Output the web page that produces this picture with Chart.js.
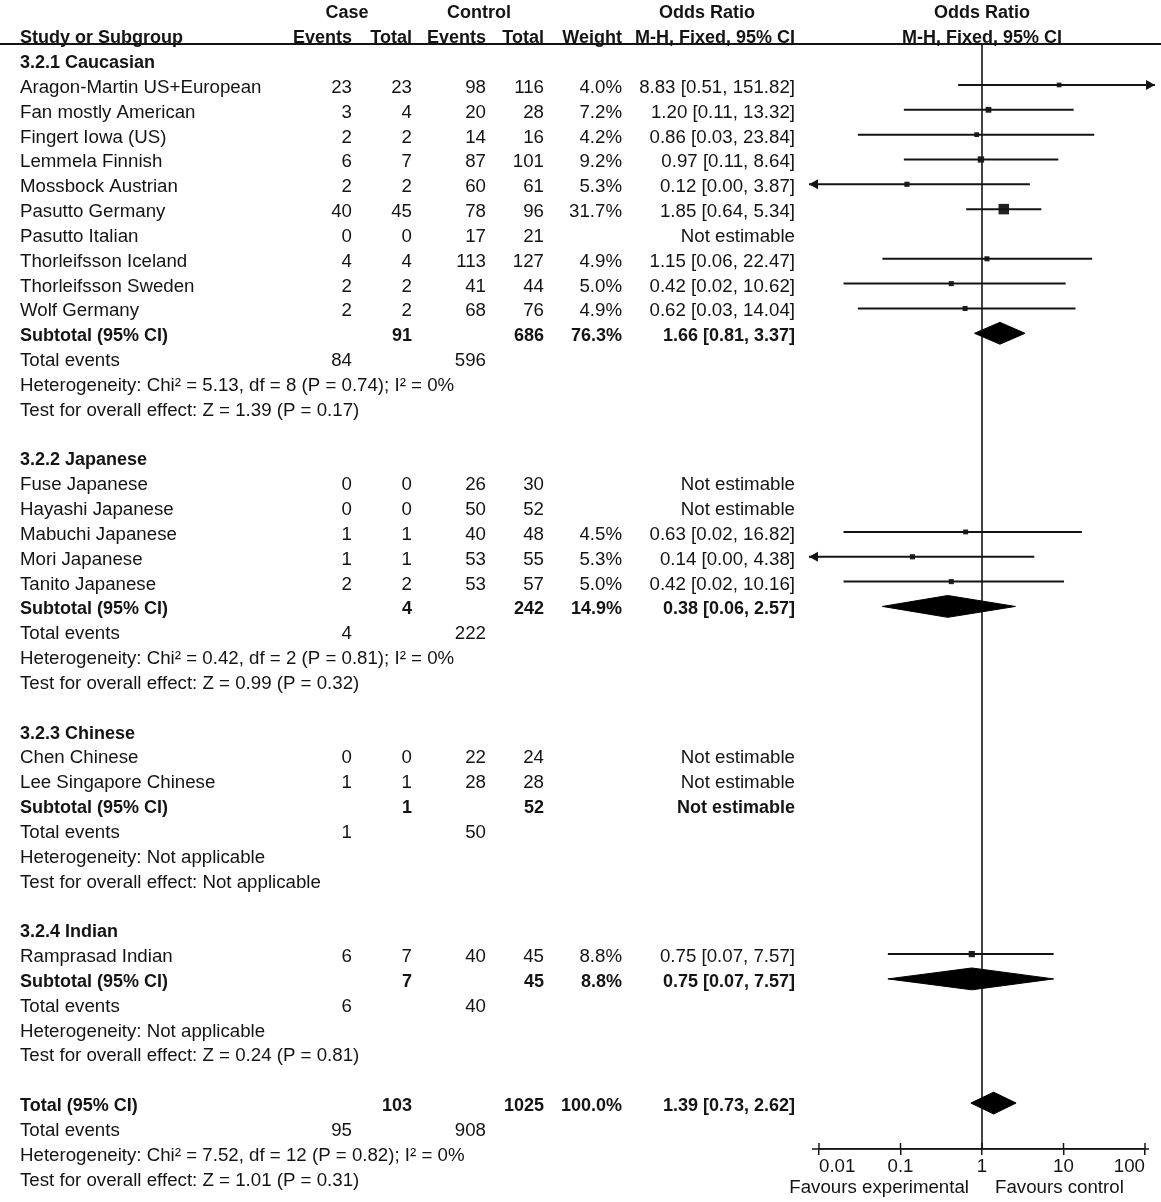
<!DOCTYPE html>
<html>
<head>
<meta charset="utf-8">
<script src="https://cdn.jsdelivr.net/npm/chart.js@4.4.1/dist/chart.umd.min.js"></script>
<style>
  html, body { margin: 0; padding: 0; background: #fff; }
  canvas { display: block; }
</style>
</head>
<body>
<canvas id="forest" width="1161" height="1202"></canvas>
<script>
// ---------- data ----------
const groupNames = ['3.2.1 Caucasian', '3.2.2 Japanese', '3.2.3 Chinese', '3.2.4 Indian'];

const studyNames = [
  'Aragon-Martin US+European', 'Fan mostly American', 'Fingert Iowa (US)', 'Lemmela Finnish',
  'Mossbock Austrian', 'Pasutto Germany', 'Pasutto Italian', 'Thorleifsson Iceland',
  'Thorleifsson Sweden', 'Wolf Germany',
  'Fuse Japanese', 'Hayashi Japanese', 'Mabuchi Japanese', 'Mori Japanese', 'Tanito Japanese',
  'Chen Chinese', 'Lee Singapore Chinese',
  'Ramprasad Indian'
];
const studyGroup = [0, 0, 0, 0, 0, 0, 0, 0, 0, 0, 1, 1, 1, 1, 1, 2, 2, 3];
const caseEvents = [23, 3, 2, 6, 2, 40, 0, 4, 2, 2, 0, 0, 1, 1, 2, 0, 1, 6];
const caseTotals = [23, 4, 2, 7, 2, 45, 0, 4, 2, 2, 0, 0, 1, 1, 2, 0, 1, 7];
const ctrlEvents = [98, 20, 14, 87, 60, 78, 17, 113, 41, 68, 26, 50, 40, 53, 53, 22, 28, 40];
const ctrlTotals = [116, 28, 16, 101, 61, 96, 21, 127, 44, 76, 30, 52, 48, 55, 57, 24, 28, 45];
const weights   = [4.0, 7.2, 4.2, 9.2, 5.3, 31.7, null, 4.9, 5.0, 4.9, null, null, 4.5, 5.3, 5.0, null, null, 8.8];
const oddsRatio = [8.83, 1.20, 0.86, 0.97, 0.12, 1.85, null, 1.15, 0.42, 0.62, null, null, 0.63, 0.14, 0.42, null, null, 0.75];
const ciLower   = [0.51, 0.11, 0.03, 0.11, 0.00, 0.64, null, 0.06, 0.02, 0.03, null, null, 0.02, 0.00, 0.02, null, null, 0.07];
const ciUpper   = [151.82, 13.32, 23.84, 8.64, 3.87, 5.34, null, 22.47, 10.62, 14.04, null, null, 16.82, 4.38, 10.16, null, null, 7.57];

// subgroup summaries
const subCaseEvents = [84, 4, 1, 6];
const subCaseTotals = [91, 4, 1, 7];
const subCtrlEvents = [596, 222, 50, 40];
const subCtrlTotals = [686, 242, 52, 45];
const subWeights = [76.3, 14.9, null, 8.8];
const subOdds  = [1.66, 0.38, null, 0.75];
const subLower = [0.81, 0.06, null, 0.07];
const subUpper = [3.37, 2.57, null, 7.57];
const subHeterogeneity = [
  'Chi² = 5.13, df = 8 (P = 0.74); I² = 0%',
  'Chi² = 0.42, df = 2 (P = 0.81); I² = 0%',
  'Not applicable',
  'Not applicable'
];
const subEffect = ['Z = 1.39 (P = 0.17)', 'Z = 0.99 (P = 0.32)', 'Not applicable', 'Z = 0.24 (P = 0.81)'];

// overall
const totalCaseEvents = 95, totalCaseN = 103;
const totalCtrlEvents = 908, totalCtrlN = 1025;
const totalWeight = 100.0;
const totalOdds = [1.39, 0.73, 2.62];
const totalHeterogeneity = 'Chi² = 7.52, df = 12 (P = 0.82); I² = 0%';
const totalEffect = 'Z = 1.01 (P = 0.31)';

const axisTicks = [0.01, 0.1, 1, 10, 100];
const axisTickLabels = ['0.01', '0.1', '1', '10', '100'];

// ---------- layout ----------
const INK = '#141414';
const FONT = '"Liberation Sans", Arial, sans-serif';
const X_MIN = 0.01, X_MAX = 100;
const COL = { name: 20, caseEv: 352, caseN: 412, ctrlEv: 486, ctrlN: 544, weight: 622, or: 795 };
const DIAMOND_H = 0.44; // half height of summary diamonds, in rows

// build the row list
const rows = [];
let r = 0;
groupNames.forEach((g, gi) => {
  rows.push({ kind: 'group', gi, row: r++ });
  studyNames.forEach((s, i) => { if (studyGroup[i] === gi) rows.push({ kind: 'study', i, row: r++ }); });
  rows.push({ kind: 'subtotal', gi, row: r++ });
  rows.push({ kind: 'events', gi, row: r++ });
  rows.push({ kind: 'het', gi, row: r++ });
  rows.push({ kind: 'effect', gi, row: r++ });
  r++;
});
rows.push({ kind: 'total', row: r++ });
rows.push({ kind: 'totalEvents', row: r++ });
rows.push({ kind: 'totalHet', row: r++ });
rows.push({ kind: 'totalEffect', row: r++ });

const clampX = v => Math.min(Math.max(v, X_MIN), X_MAX);
const orText = (o, lo, hi) => o.toFixed(2) + ' [' + lo.toFixed(2) + ', ' + hi.toFixed(2) + ']';

// ---------- datasets ----------
const datasets = [];
const markers = [];
const markerSize = [];
rows.filter(d => d.kind === 'study' && oddsRatio[d.i] != null).forEach(d => {
  const i = d.i;
  datasets.push({
    data: [{ x: clampX(ciLower[i]), y: d.row }, { x: clampX(ciUpper[i]), y: d.row }],
    showLine: true, borderColor: INK, borderWidth: 2, pointRadius: 0, clip: false
  });
  markers.push({ x: oddsRatio[i], y: d.row });
  // square side grows with sqrt(weight)
  markerSize.push((1.5 + 1.6 * Math.sqrt(weights[i])) / Math.SQRT2);
});
datasets.push({
  data: markers, pointStyle: 'rect', pointRadius: markerSize,
  backgroundColor: '#222', borderColor: '#222', borderWidth: 0
});

function diamond(o, lo, hi, row) {
  return {
    data: [{ x: lo, y: row }, { x: o, y: row - DIAMOND_H }, { x: hi, y: row }, { x: o, y: row + DIAMOND_H }, { x: lo, y: row }],
    showLine: true, fill: 'shape', backgroundColor: '#000', borderColor: '#000', borderWidth: 1,
    pointRadius: 0, tension: 0
  };
}
rows.forEach(d => {
  if (d.kind === 'subtotal' && subOdds[d.gi] != null) datasets.push(diamond(subOdds[d.gi], subLower[d.gi], subUpper[d.gi], d.row));
  if (d.kind === 'total') datasets.push(diamond(totalOdds[0], totalOdds[1], totalOdds[2], d.row));
});

// ---------- text + decorations ----------
function put(ctx, s, x, y, align, bold) {
  ctx.font = bold ? 'bold 18px ' + FONT : '18.7px ' + FONT;
  ctx.textAlign = align;
  ctx.fillText(s, x, y + 8);
}

const forestLayer = {
  id: 'forestLayer',
  beforeDatasetsDraw(chart) {
    const { ctx, chartArea, scales: { x } } = chart;
    const x1 = x.getPixelForValue(1);
    ctx.save();
    ctx.strokeStyle = INK;
    ctx.lineWidth = 1.6;
    ctx.beginPath();
    ctx.moveTo(x1, chartArea.top);
    ctx.lineTo(x1, chartArea.bottom);
    ctx.stroke();
    ctx.lineWidth = 2;
    ctx.beginPath();
    ctx.moveTo(0, chartArea.top);
    ctx.lineTo(chart.width, chartArea.top);
    ctx.stroke();
    ctx.restore();
  },
  afterDraw(chart) {
    const { ctx, chartArea, scales: { x, y } } = chart;
    const py = v => y.getPixelForValue(v);
    const x1 = x.getPixelForValue(1);
    ctx.save();
    ctx.fillStyle = INK;
    ctx.textBaseline = 'alphabetic';

    // headers
    put(ctx, 'Case', 347, py(-2), 'center', true);
    put(ctx, 'Control', 479, py(-2), 'center', true);
    put(ctx, 'Odds Ratio', 707, py(-2), 'center', true);
    put(ctx, 'Odds Ratio', x1, py(-2), 'center', true);
    put(ctx, 'Study or Subgroup', COL.name, py(-1), 'left', true);
    put(ctx, 'Events', COL.caseEv, py(-1), 'right', true);
    put(ctx, 'Total', COL.caseN, py(-1), 'right', true);
    put(ctx, 'Events', COL.ctrlEv, py(-1), 'right', true);
    put(ctx, 'Total', COL.ctrlN, py(-1), 'right', true);
    put(ctx, 'Weight', COL.weight, py(-1), 'right', true);
    put(ctx, 'M-H, Fixed, 95% CI', COL.or, py(-1), 'right', true);
    put(ctx, 'M-H, Fixed, 95% CI', x1, py(-1), 'center', true);

    rows.forEach(d => {
      const yy = py(d.row);
      if (d.kind === 'group') {
        put(ctx, groupNames[d.gi], COL.name, yy, 'left', true);
      } else if (d.kind === 'study') {
        const i = d.i;
        put(ctx, studyNames[i], COL.name, yy, 'left');
        put(ctx, String(caseEvents[i]), COL.caseEv, yy, 'right');
        put(ctx, String(caseTotals[i]), COL.caseN, yy, 'right');
        put(ctx, String(ctrlEvents[i]), COL.ctrlEv, yy, 'right');
        put(ctx, String(ctrlTotals[i]), COL.ctrlN, yy, 'right');
        if (oddsRatio[i] == null) {
          put(ctx, 'Not estimable', COL.or, yy, 'right');
        } else {
          put(ctx, weights[i].toFixed(1) + '%', COL.weight, yy, 'right');
          put(ctx, orText(oddsRatio[i], ciLower[i], ciUpper[i]), COL.or, yy, 'right');
        }
      } else if (d.kind === 'subtotal') {
        const g = d.gi;
        put(ctx, 'Subtotal (95% CI)', COL.name, yy, 'left', true);
        put(ctx, String(subCaseTotals[g]), COL.caseN, yy, 'right', true);
        put(ctx, String(subCtrlTotals[g]), COL.ctrlN, yy, 'right', true);
        if (subOdds[g] == null) {
          put(ctx, 'Not estimable', COL.or, yy, 'right', true);
        } else {
          put(ctx, subWeights[g].toFixed(1) + '%', COL.weight, yy, 'right', true);
          put(ctx, orText(subOdds[g], subLower[g], subUpper[g]), COL.or, yy, 'right', true);
        }
      } else if (d.kind === 'events') {
        put(ctx, 'Total events', COL.name, yy, 'left');
        put(ctx, String(subCaseEvents[d.gi]), COL.caseEv, yy, 'right');
        put(ctx, String(subCtrlEvents[d.gi]), COL.ctrlEv, yy, 'right');
      } else if (d.kind === 'het') {
        put(ctx, 'Heterogeneity: ' + subHeterogeneity[d.gi], COL.name, yy, 'left');
      } else if (d.kind === 'effect') {
        put(ctx, 'Test for overall effect: ' + subEffect[d.gi], COL.name, yy, 'left');
      } else if (d.kind === 'total') {
        put(ctx, 'Total (95% CI)', COL.name, yy, 'left', true);
        put(ctx, String(totalCaseN), COL.caseN, yy, 'right', true);
        put(ctx, String(totalCtrlN), COL.ctrlN, yy, 'right', true);
        put(ctx, totalWeight.toFixed(1) + '%', COL.weight, yy, 'right', true);
        put(ctx, orText(totalOdds[0], totalOdds[1], totalOdds[2]), COL.or, yy, 'right', true);
      } else if (d.kind === 'totalEvents') {
        put(ctx, 'Total events', COL.name, yy, 'left');
        put(ctx, String(totalCaseEvents), COL.caseEv, yy, 'right');
        put(ctx, String(totalCtrlEvents), COL.ctrlEv, yy, 'right');
      } else if (d.kind === 'totalHet') {
        put(ctx, 'Heterogeneity: ' + totalHeterogeneity, COL.name, yy, 'left');
      } else if (d.kind === 'totalEffect') {
        put(ctx, 'Test for overall effect: ' + totalEffect, COL.name, yy, 'left');
      }
    });

    // arrows for intervals running off the scale
    ctx.strokeStyle = INK;
    ctx.lineWidth = 2;
    rows.filter(d => d.kind === 'study' && oddsRatio[d.i] != null).forEach(d => {
      const yy = py(d.row);
      const ends = [];
      if (ciLower[d.i] < X_MIN) ends.push([x.getPixelForValue(X_MIN), -1]);
      if (ciUpper[d.i] > X_MAX) ends.push([x.getPixelForValue(X_MAX), 1]);
      ends.forEach(([px, dir]) => {
        const tip = px + dir * 10;
        ctx.beginPath();
        ctx.moveTo(px, yy);
        ctx.lineTo(tip, yy);
        ctx.stroke();
        ctx.beginPath();
        ctx.moveTo(tip, yy);
        ctx.lineTo(tip - dir * 9, yy - 5);
        ctx.lineTo(tip - dir * 9, yy + 5);
        ctx.closePath();
        ctx.fill();
      });
    });

    // axis line runs a little past the end ticks; upper half of tick marks
    ctx.lineWidth = 1.5;
    ctx.beginPath();
    ctx.moveTo(x.getPixelForValue(X_MIN) - 7, chartArea.bottom);
    ctx.lineTo(x.getPixelForValue(X_MAX) + 4, chartArea.bottom);
    ctx.stroke();
    axisTicks.forEach(v => {
      const px = x.getPixelForValue(v);
      ctx.beginPath();
      ctx.moveTo(px, chartArea.bottom - 6);
      ctx.lineTo(px, chartArea.bottom);
      ctx.stroke();
    });

    // favours labels
    put(ctx, 'Favours experimental', x1 - 13, chartArea.bottom + 36, 'right');
    put(ctx, 'Favours control', x1 + 13, chartArea.bottom + 36, 'left');
    ctx.restore();
  }
};

// ---------- chart ----------
new Chart(document.getElementById('forest'), {
  type: 'scatter',
  data: { datasets },
  plugins: [forestLayer],
  options: {
    responsive: false,
    animation: false,
    layout: { padding: { left: 819, right: 16, top: 44, bottom: 0 } },
    plugins: { legend: { display: false }, tooltip: { enabled: false } },
    scales: {
      x: {
        type: 'logarithmic',
        position: 'bottom',
        min: X_MIN,
        max: X_MAX,
        afterBuildTicks: s => { s.ticks = axisTicks.map(v => ({ value: v })); },
        afterFit: s => { s.height = 53; },
        ticks: {
          callback: (v, i) => axisTickLabels[i],
          color: INK,
          font: { family: FONT, size: 18.7 },
          padding: 1,
          align: 'inner',
          maxRotation: 0,
          autoSkip: false
        },
        grid: { drawOnChartArea: false, drawTicks: true, tickLength: 6, color: INK, lineWidth: 1.5 },
        border: { display: true, color: INK, width: 1.5 }
      },
      y: {
        type: 'linear',
        display: false,
        reverse: true,
        min: -0.65,
        max: 43.85
      }
    }
  }
});
</script>
</body>
</html>
